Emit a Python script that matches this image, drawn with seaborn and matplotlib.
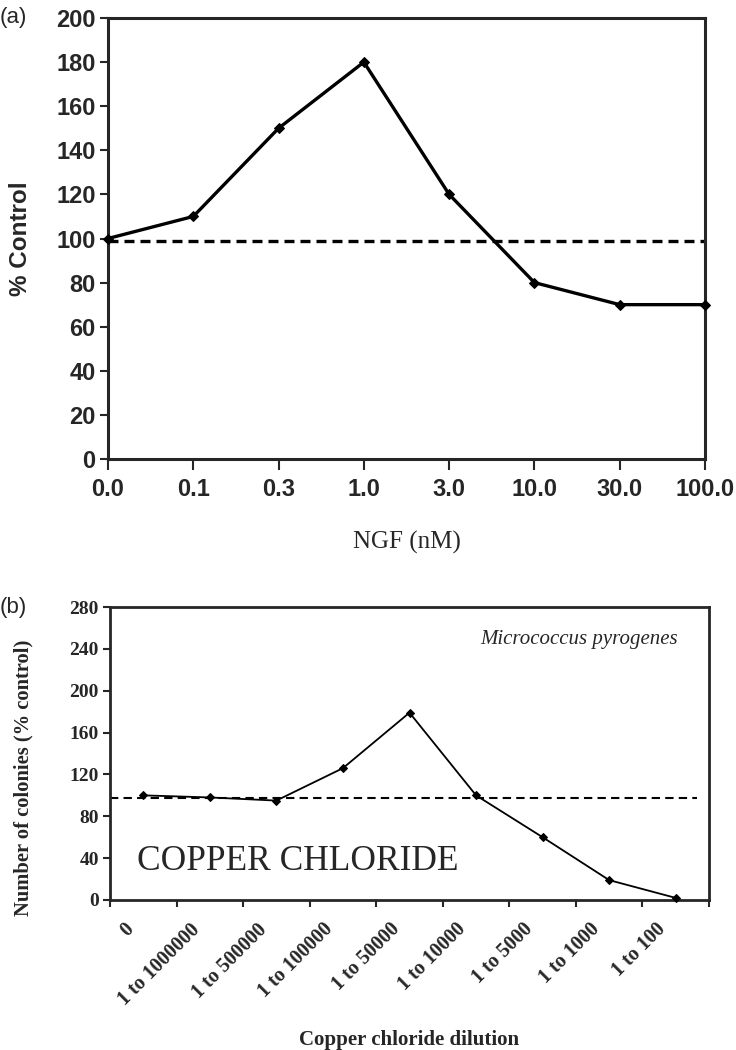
import matplotlib as mpl
import matplotlib.pyplot as plt
import seaborn as sns
import pandas as pd

mpl.use("Agg")

# panel (a): NGF dose response
ngf_labels = ["0.0", "0.1", "0.3", "1.0", "3.0", "10.0", "30.0", "100.0"]
ngf_values = [100, 110, 150, 180, 120, 80, 70, 70]
ngf_control = 99

# panel (b): copper chloride dilution
cu_labels = ["0", "1 to 1000000", "1 to 500000", "1 to 100000", "1 to 50000",
             "1 to 10000", "1 to 5000", "1 to 1000", "1 to 100"]
cu_values = [100, 98, 95, 126, 179, 100, 60, 19, 2]
cu_control = 97.5

sns.set_style("ticks")
SANS = ["Liberation Sans", "DejaVu Sans"]
SERIF = ["Liberation Serif", "DejaVu Serif"]

fig = plt.figure(figsize=(7.36, 10.5), dpi=100)

# ---------------- (a) ----------------
ax = fig.add_axes([108 / 736, 1 - 459 / 1050, 597 / 736, 441 / 1050])
df_a = pd.DataFrame({"pos": range(len(ngf_labels)), "val": ngf_values})
sns.lineplot(data=df_a, x="pos", y="val", ax=ax, color="black", lw=2.4,
             marker="D", markersize=5, markeredgecolor="black", errorbar=None,
             clip_on=False, zorder=3)
ax.axhline(ngf_control, color="black", lw=2.4, ls=(0, (3, 1.8)), zorder=2)
ax.set_xlim(0, len(ngf_labels) - 1)
ax.set_ylim(0, 200)
ax.set_yticks(range(0, 201, 20))
ax.set_xticks(range(len(ngf_labels)))
ax.set_xticklabels(ngf_labels)
for lab in ax.get_xticklabels() + ax.get_yticklabels():
    lab.set_family(SANS)
    lab.set_fontweight("bold")
    lab.set_fontsize(17)
ax.tick_params(axis="y", length=6, width=1.5, pad=3)
ax.tick_params(axis="x", length=8, width=1.5, pad=6)
for s in ax.spines.values():
    s.set_visible(True)
    s.set_linewidth(2.2)
ax.set_ylabel("% Control", family=SANS, fontweight="bold", fontsize=17.5)
ax.yaxis.set_label_coords(-0.128, 0.5)
ax.set_xlabel("NGF (nM)", family=SERIF, fontsize=18)
ax.xaxis.set_label_coords(0.5, -0.162)
fig.text(0.0, 1 - 18 / 1050, "(a)", family=SANS, fontsize=16, va="center", ha="left")

# ---------------- (b) ----------------
bx = fig.add_axes([110 / 736, 1 - 900 / 1050, 599 / 736, 293 / 1050])
df_b = pd.DataFrame({"pos": [i + 0.5 for i in range(len(cu_labels))], "val": cu_values})
sns.lineplot(data=df_b, x="pos", y="val", ax=bx, color="black", lw=1.3,
             marker="D", markersize=4.5, markeredgecolor="black", errorbar=None,
             clip_on=False, zorder=3)
bx.axhline(cu_control, xmax=0.98, color="black", lw=1.5, ls=(0, (4, 2.5)), zorder=2)
bx.set_xlim(0, len(cu_labels))
bx.set_ylim(0, 280)
bx.set_yticks(range(0, 281, 40))
bx.set_xticks(range(len(cu_labels) + 1))
bx.set_xticklabels([])
# label anchors sit a little left of the category centres, as in the original
bx.set_xticks([i + 0.2 for i in range(len(cu_labels))], minor=True)
bx.set_xticklabels(cu_labels, minor=True, rotation=45, ha="right",
                   rotation_mode="anchor", family=SERIF, fontweight="bold", fontsize=14.5)
bx.tick_params(axis="x", which="minor", length=0, pad=14)
bx.tick_params(axis="x", which="major", length=5, width=1.5)
bx.tick_params(axis="y", length=5, width=1.5, pad=3)
for lab in bx.get_yticklabels():
    lab.set_family(SERIF)
    lab.set_fontweight("bold")
    lab.set_fontsize(14)
for s in bx.spines.values():
    s.set_visible(True)
    s.set_linewidth(2.0)
bx.set_ylabel("Number of colonies (% control)", family=SERIF, fontweight="bold",
              fontsize=14.8)
bx.yaxis.set_label_coords(-0.1285, 0.416)
bx.set_xlabel("Copper chloride dilution", family=SERIF, fontweight="bold", fontsize=15)
bx.xaxis.set_label_coords(0.5, -0.445)
bx.text(0.948, 0.89, "Micrococcus pyrogenes", transform=bx.transAxes, family=SERIF,
        style="italic", fontsize=15, ha="right", va="center")
bx.text(0.045, 0.13, "COPPER CHLORIDE", transform=bx.transAxes, family=SERIF,
        fontsize=25.5, ha="left", va="center")
fig.text(0.0, 1 - 608 / 1050, "(b)", family=SANS, fontsize=16, va="center", ha="left")

plt.savefig("out.png", dpi=100)
